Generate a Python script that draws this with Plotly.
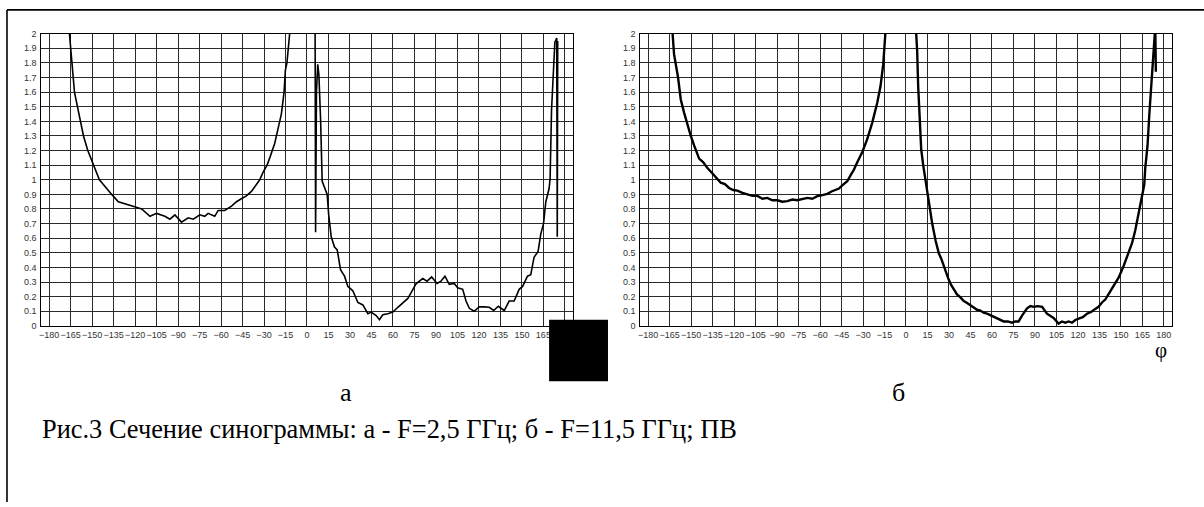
import plotly.graph_objects as go

# ---------------- data ----------------
# panel "а" (F = 2.5 GHz)
phi_a = [-167.5, -165.8, -162.3, -157.9, -156.0, -153.0, -149.0, -144.9, -136.3, -131.7,
         -122.0, -115.4, -109.6, -105.0, -99.2, -95.7, -92.2, -87.6, -82.9, -79.4,
         -74.8, -71.4, -69.0, -64.4, -62.0, -57.4, -52.7, -49.2, -45.8, -42.3,
         -38.8, -36.5, -33.0, -30.7, -27.9, -26.0, -22.5, -20.2, -17.9, -16.0,
         -15.1, -14.0, -12.1, -10.5,
         5.6, 6.0, 6.6, 7.5, 8.3, 9.5, 10.4, 10.6, 14.1, 15.1,
         16.9, 19.2, 21.1, 23.4, 26.2, 28.5, 32.0, 35.5, 39.0, 42.5,
         44.8, 48.3, 50.6, 52.9, 56.4, 59.9, 63.4, 66.9, 70.4, 72.7,
         76.1, 80.8, 83.8, 87.0, 90.8, 93.5, 96.3, 99.3, 102.8, 105.2,
         108.7, 111.0, 113.3, 116.7, 120.2, 123.7, 127.2, 130.3, 133.5, 137.7,
         141.1, 144.6, 148.1, 150.5, 153.9, 156.2, 158.5, 161.3, 163.2, 165.1,
         166.7, 169.0, 169.7, 170.7, 171.8, 173.0, 174.3, 174.7, 175.0]
val_a = [2.15, 2.0, 1.6, 1.4, 1.3, 1.2, 1.1, 1.0, 0.9, 0.85,
         0.82, 0.80, 0.75, 0.77, 0.75, 0.73, 0.76, 0.71, 0.74, 0.73,
         0.76, 0.75, 0.77, 0.75, 0.79, 0.79, 0.82, 0.85, 0.87, 0.89,
         0.92, 0.95, 1.0, 1.05, 1.1, 1.15, 1.25, 1.35, 1.45, 1.6,
         1.75, 1.8, 2.0, 2.3,
         2.3, 0.64, 1.6, 1.79, 1.72, 1.41, 1.14, 0.99, 0.90, 0.765,
         0.61, 0.54, 0.52, 0.385, 0.34, 0.27, 0.24, 0.16, 0.143, 0.083,
         0.094, 0.071, 0.042, 0.076, 0.083, 0.094, 0.127, 0.16, 0.188, 0.228,
         0.288, 0.324, 0.306, 0.335, 0.29, 0.306, 0.34, 0.284, 0.29, 0.26,
         0.25, 0.17, 0.12, 0.10, 0.13, 0.13, 0.127, 0.105, 0.134, 0.105,
         0.17, 0.17, 0.25, 0.27, 0.34, 0.35, 0.47, 0.51, 0.63, 0.70,
         0.85, 0.94, 1.01, 1.48, 1.75, 1.94, 1.97, 0.61, 1.95]

# panel "б" (F = 11.5 GHz)
phi_b = [-164.0, -163.0, -161.9, -159.1, -157.2, -154.9, -152.5, -150.2, -147.9, -144.4,
         -141.5, -138.6, -135.7, -132.8, -129.3, -126.4, -123.5, -120.6, -117.7, -114.2,
         -110.7, -107.2, -103.7, -100.2, -96.8, -93.3, -89.8, -86.3, -82.8, -79.3,
         -75.9, -72.4, -68.9, -65.4, -61.9, -58.4, -54.9, -52.0, -49.1, -46.8,
         -44.5, -41.0, -38.7, -36.3, -34.0, -30.5, -27.0, -23.6, -20.1, -17.8,
         -15.9, -14.3, -13.0,
         6.0, 7.1, 7.8, 8.5, 9.6, 10.6, 12.0, 13.6, 14.8, 16.6,
         18.3, 20.6, 22.9, 24.6, 26.4, 28.1, 29.8, 31.5, 33.3, 35.6,
         38.0, 40.3, 42.7, 45.0, 47.3, 49.6, 51.9, 54.2, 56.6, 59.5,
         62.4, 65.3, 68.2, 71.1, 74.0, 76.3, 78.6, 81.0, 84.5, 86.8,
         89.1, 92.0, 95.0, 98.4, 100.7, 103.0, 106.5, 108.8, 111.2, 113.5,
         115.9, 118.2, 120.5, 123.4, 126.3, 129.2, 132.1, 134.4, 136.8, 139.1,
         141.4, 144.9, 148.4, 151.9, 155.3, 157.7, 160.0, 162.3, 164.6, 166.3,
         167.0, 168.6, 169.8, 171.0, 172.4, 173.3, 174.0, 174.4]
val_b = [2.15, 2.0, 1.86, 1.70, 1.55, 1.46, 1.37, 1.30, 1.235, 1.145,
         1.12, 1.08, 1.05, 1.02, 0.98, 0.97, 0.944, 0.93, 0.926, 0.91,
         0.90, 0.89, 0.89, 0.87, 0.876, 0.86, 0.86, 0.85, 0.854, 0.865,
         0.86, 0.87, 0.876, 0.87, 0.888, 0.895, 0.904, 0.92, 0.933, 0.94,
         0.962, 0.99, 1.03, 1.07, 1.12, 1.19, 1.28, 1.39, 1.525, 1.64,
         1.79, 1.995, 2.2,
         2.2, 2.0, 1.88, 1.64, 1.46, 1.21, 1.10, 0.99, 0.92, 0.81,
         0.70, 0.586, 0.497, 0.46, 0.407, 0.36, 0.317, 0.28, 0.25, 0.215,
         0.195, 0.17, 0.156, 0.14, 0.127, 0.11, 0.105, 0.09, 0.083, 0.07,
         0.06, 0.045, 0.03, 0.03, 0.022, 0.03, 0.03, 0.07, 0.12, 0.135,
         0.13, 0.135, 0.13, 0.083, 0.07, 0.054, 0.015, 0.03, 0.022, 0.03,
         0.022, 0.04, 0.05, 0.06, 0.083, 0.095, 0.116, 0.13, 0.16, 0.18,
         0.217, 0.27, 0.33, 0.41, 0.497, 0.564, 0.653, 0.765, 0.876, 0.966,
         1.08, 1.235, 1.44, 1.64, 1.86, 1.97, 2.05, 1.74]

x_tick_vals = list(range(-180, 181, 15))
x_tick_text = [("\u2212" + str(-v)) if v < 0 else str(v) for v in x_tick_vals]
y_tick_vals = [round(i * 0.1, 1) for i in range(21)]
y_tick_text = ["0", "0.1", "0.2", "0.3", "0.4", "0.5", "0.6", "0.7", "0.8", "0.9",
               "1", "1.1", "1.2", "1.3", "1.4", "1.5", "1.6", "1.7", "1.8", "1.9", "2"]

panel_label_a = "а"
panel_label_b = "б"
caption = "Рис.3 Сечение синограммы: а - F=2,5 ГГц; б - F=11,5 ГГц; ПВ"
phi_label = "φ"

# ---------------- figure ----------------
W, H = 1204, 507
fig = go.Figure()
fig.add_trace(go.Scatter(x=phi_a, y=val_a, mode="lines",
                         line=dict(color="black", width=1.6), xaxis="x", yaxis="y",
                         showlegend=False, hoverinfo="skip"))
fig.add_trace(go.Scatter(x=phi_b, y=val_b, mode="lines",
                         line=dict(color="black", width=2.4), xaxis="x2", yaxis="y2",
                         showlegend=False, hoverinfo="skip"))

def px(x):
    return x / W

def py(y):
    return 1 - y / H

tick_font = dict(family="Liberation Sans, Arial, sans-serif", size=9, color="#333333")
common_x = dict(range=[-185.5, 185.5], tickmode="array", tickvals=x_tick_vals,
                ticktext=x_tick_text, tickangle=0, showgrid=True, gridcolor="#2a2a2a",
                gridwidth=1, zeroline=False, showline=True, linecolor="black", linewidth=1,
                mirror=True, ticks="", tickfont=tick_font, ticklabelstandoff=0)
common_y = dict(range=[0, 2], tickmode="array", tickvals=y_tick_vals,
                ticktext=y_tick_text, showgrid=True, gridcolor="#2a2a2a", gridwidth=1,
                zeroline=False, showline=True, linecolor="black", linewidth=1,
                mirror=True, ticks="", tickfont=tick_font, ticklabelstandoff=2,
                domain=[py(327.3), py(29.3)])

fig.update_layout(
    width=W, height=H,
    margin=dict(l=0, r=0, t=0, b=0),
    paper_bgcolor="white", plot_bgcolor="white",
    xaxis=dict(domain=[px(39.3), px(571.7)], anchor="y", **common_x),
    yaxis=dict(anchor="x", **common_y),
    xaxis2=dict(domain=[px(639.3), px(1171.7)], anchor="y2", **common_x),
    yaxis2=dict(anchor="x2", **common_y),
)

shapes = [
    # outer frame (top and left edges)
    dict(type="line", xref="paper", yref="paper", x0=px(5), x1=1.0, y0=py(5), y1=py(5),
         line=dict(color="black", width=1.6)),
    dict(type="line", xref="paper", yref="paper", x0=px(5), x1=px(5), y0=py(5), y1=0,
         line=dict(color="black", width=1.6)),
    # black square covering corner
    dict(type="rect", xref="paper", yref="paper", x0=px(548), x1=px(607), y0=py(383.7), y1=py(321),
         fillcolor="black", line=dict(width=0), layer="above"),
]
fig.update_layout(shapes=shapes)

serif = "Liberation Serif, Times New Roman, serif"
fig.add_annotation(x=px(345), y=py(395), xref="paper", yref="paper", text=panel_label_a,
                   showarrow=False, font=dict(family=serif, size=26, color="black"),
                   xanchor="center", yanchor="middle")
fig.add_annotation(x=px(898), y=py(395), xref="paper", yref="paper", text=panel_label_b,
                   showarrow=False, font=dict(family=serif, size=26, color="black"),
                   xanchor="center", yanchor="middle")
fig.add_annotation(x=px(38), y=py(433), xref="paper", yref="paper", text=caption,
                   showarrow=False, font=dict(family=serif, size=26.4, color="black"),
                   xanchor="left", yanchor="middle")
fig.add_annotation(x=px(1161), y=py(352), xref="paper", yref="paper", text=phi_label,
                   showarrow=False, font=dict(family=serif, size=21, color="black"),
                   xanchor="center", yanchor="middle")

fig.write_html("out.html", config={"displayModeBar": False},
               post_script="document.body.style.margin='0';document.body.style.overflow='hidden';")
